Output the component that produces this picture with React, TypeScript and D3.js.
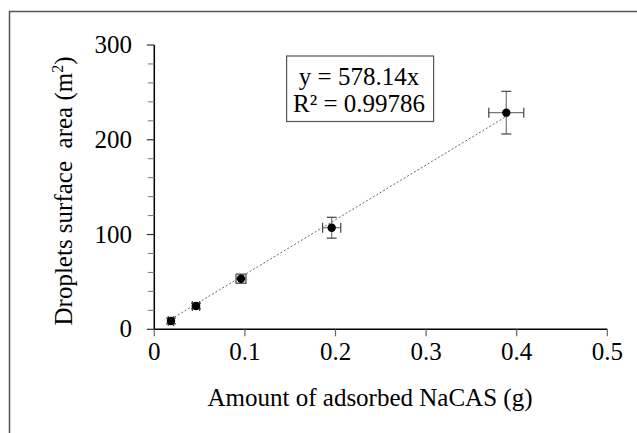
import React from "react";
import * as d3 from "d3";

const xValues = [0.0184, 0.046, 0.0957, 0.1958, 0.3885];
const yValues = [8.8, 24.6, 53.4, 107.2, 228.6];
const xErrors = [0.003, 0.004, 0.0055, 0.01, 0.0193];
const yErrors = [3, 3, 4.8, 11, 22.5];
const xTicks = [0, 0.1, 0.2, 0.3, 0.4, 0.5];
const yTicks = [0, 100, 200, 300];
const yMinorTicks = [20, 40, 60, 80, 120, 140, 160, 180, 220, 240, 260, 280];
const slope = 578.14;
const equationLines = ["y = 578.14x", "R² = 0.99786"];

const W = 637;
const H = 433;
const FONT = "'Liberation Serif', serif";
const FS = 25;

export default function App() {
  const x = d3.scaleLinear().domain([0, 0.5]).range([154.3, 607.3]);
  const y = d3.scaleLinear().domain([0, 300]).range([329.3, 45]);
  const xMin = d3.min(xValues) as number;
  const xMax = d3.max(xValues) as number;
  const trend = d3.line<number>().x((d) => x(d)).y((d) => y(slope * d));
  const fmt = (v: number) => (v === 0 ? "0" : String(v));
  const cap = 5;

  return (
    <svg
      width={W}
      height={H}
      style={{ position: "absolute", left: 0, top: 0, background: "#fff" }}
    >
      <path d={`M9.5,${H} V11.5 H${W}`} fill="none" stroke="#555" strokeWidth={1.5} />

      <path
        d={trend([xMin, xMax]) as string}
        fill="none"
        stroke="#666"
        strokeWidth={1}
        strokeDasharray="2,2"
      />

      {xValues.map((xv, i) => {
        const cx = x(xv);
        const cy = y(yValues[i]);
        const y1 = y(yValues[i] + yErrors[i]);
        const y2 = y(yValues[i] - yErrors[i]);
        const x1 = x(xv - xErrors[i]);
        const x2 = x(xv + xErrors[i]);
        return (
          <g key={i} stroke="#777" strokeWidth={1.2}>
            <line x1={cx} x2={cx} y1={y1} y2={y2} />
            <line x1={x1} x2={x2} y1={cy} y2={cy} />
            <line x1={cx - cap} x2={cx + cap} y1={y1} y2={y1} stroke="#444" />
            <line x1={cx - cap} x2={cx + cap} y1={y2} y2={y2} stroke="#444" />
            <line x1={x1} x2={x1} y1={cy - cap} y2={cy + cap} stroke="#444" />
            <line x1={x2} x2={x2} y1={cy - cap} y2={cy + cap} stroke="#444" />
          </g>
        );
      })}

      {xValues.map((xv, i) => (
        <circle key={i} cx={x(xv)} cy={y(yValues[i])} r={4.2} fill="#000" />
      ))}

      <line x1={x(0)} x2={x(0.5)} y1={y(0)} y2={y(0)} stroke="#000" strokeWidth={1.5} />
      <line x1={x(0)} x2={x(0)} y1={y(0)} y2={y(300)} stroke="#000" strokeWidth={1.5} />

      {xTicks.map((t) => (
        <g key={t}>
          <line x1={x(t)} x2={x(t)} y1={y(0)} y2={y(0) + 7} stroke="#666" strokeWidth={1.2} />
          <text x={x(t)} y={360} fontSize={FS} textAnchor="middle" fill="#000" fontFamily={FONT}>
            {fmt(t)}
          </text>
        </g>
      ))}
      {yTicks.map((t) => (
        <g key={t}>
          <line x1={x(0) - 7.5} x2={x(0)} y1={y(t)} y2={y(t)} stroke="#333" strokeWidth={1.2} />
          <text x={132} y={y(t) + 8} fontSize={FS} textAnchor="end" fill="#000" fontFamily={FONT}>
            {t}
          </text>
        </g>
      ))}
      {yMinorTicks.map((t) => (
        <line key={t} x1={x(0) - 6.5} x2={x(0)} y1={y(t)} y2={y(t)} stroke="#777" strokeWidth={1} />
      ))}

      <text x={370} y={406} fontSize={FS} textAnchor="middle" fill="#000" fontFamily={FONT}>
        Amount of adsorbed NaCAS (g)
      </text>
      <text
        transform={`translate(72,191) rotate(-90)`}
        fontSize={FS}
        textAnchor="middle"
        fill="#000"
        fontFamily={FONT}
        style={{ whiteSpace: "pre" }}
      >
        {"Droplets surface  area (m"}
        <tspan fontSize={16} dy={-9}>2</tspan>
        <tspan dy={9}>)</tspan>
      </text>

      <rect x={286.6} y={56} width={147} height={65.5} fill="#fff" stroke="#555" strokeWidth={1.2} />
      {equationLines.map((l, i) => (
        <text key={i} x={359} y={85 + i * 27} fontSize={FS} textAnchor="middle" fill="#000" fontFamily={FONT}>
          {l}
        </text>
      ))}
    </svg>
  );
}
